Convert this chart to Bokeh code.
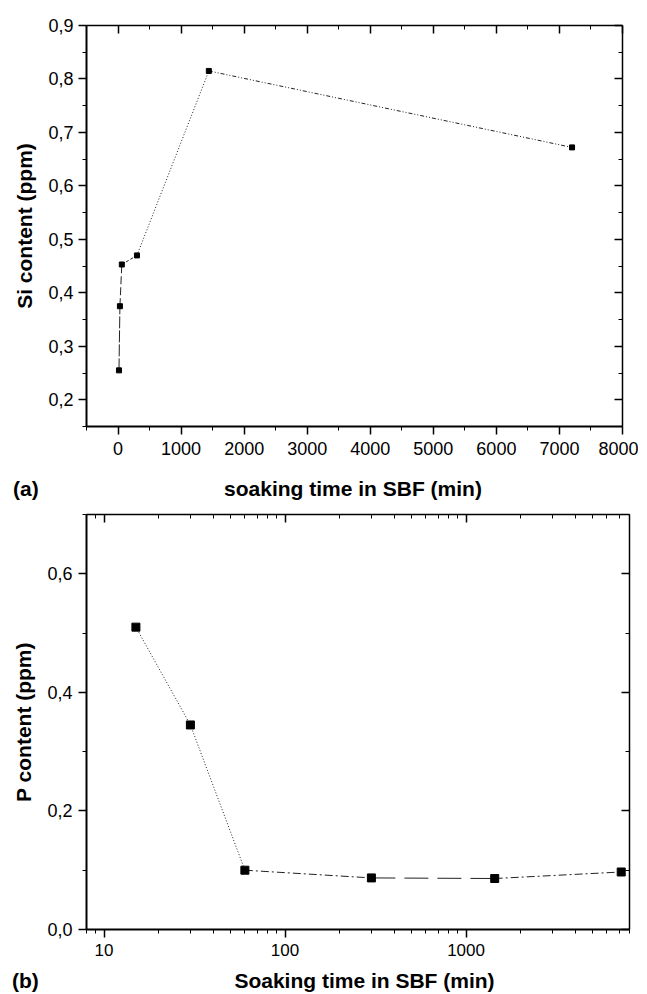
from bokeh.plotting import figure
from bokeh.models import (LinearAxis, LogAxis, FixedTicker, CustomJSTickFormatter,
                          Range1d, Div)
from bokeh.layouts import column, row
from bokeh.embed import file_html
from bokeh.resources import INLINE

# ---------------- data ----------------
time_min = [15, 30, 60, 300, 1440, 7200]
si_ppm = [0.255, 0.375, 0.453, 0.470, 0.815, 0.672]
p_ppm = [0.510, 0.345, 0.100, 0.087, 0.086, 0.097]

si_yticks = [0.2, 0.3, 0.4, 0.5, 0.6, 0.7, 0.8, 0.9]
si_yminor = [0.15, 0.25, 0.35, 0.45, 0.55, 0.65, 0.75, 0.85]
si_xticks = [0, 1000, 2000, 3000, 4000, 5000, 6000, 7000, 8000]
si_xminor = [-500, 500, 1500, 2500, 3500, 4500, 5500, 6500, 7500]

p_yticks = [0.0, 0.2, 0.4, 0.6]
p_yminor = [0.1, 0.3, 0.5, 0.7]
p_xticks = [10, 100, 1000]
p_xminor = [8, 9, 20, 30, 40, 50, 60, 70, 80, 90,
            200, 300, 400, 500, 600, 700, 800, 900,
            2000, 3000, 4000, 5000, 6000, 7000, 8000]

si_xlabel = "soaking time in SBF (min)"
si_ylabel = "Si content (ppm)"
p_xlabel = "Soaking time in SBF (min)"
p_ylabel = "P content (ppm)"
tag_a = "(a)"
tag_b = "(b)"

FONT = "Liberation Sans"
LABEL_SIZE = "21px"

si_dash = "12 2", "8 3", "3 2", "1 2", "4 2 1 2 1 2"
p_dash = "1 2", "1 2", "8 3 2 3", "24 9", "8 3 2 3"


def comma_fmt():
    return CustomJSTickFormatter(code="return tick.toFixed(1).replace('.', ',');")


def int_fmt():
    return CustomJSTickFormatter(code="return String(Math.round(tick));")


def blank_fmt():
    return CustomJSTickFormatter(code="return '';")


def style_axis(ax, primary, label_size="18px"):
    ax.axis_line_width = 2
    ax.axis_line_color = "black"
    ax.major_tick_line_width = 1.5
    ax.minor_tick_line_width = 1
    ax.major_tick_line_color = "black"
    ax.minor_tick_line_color = "black"
    if primary:
        ax.major_tick_out = 8
        ax.major_tick_in = 0
        ax.minor_tick_out = 4
        ax.minor_tick_in = 0
        ax.major_label_text_font = FONT
        ax.major_label_text_font_size = label_size
        ax.major_label_text_color = "black"
        ax.major_label_standoff = 5
        ax.axis_label_text_font = FONT
        ax.axis_label_text_font_size = LABEL_SIZE
        ax.axis_label_text_font_style = "bold"
        ax.axis_label_text_color = "black"
    else:
        ax.axis_line_width = 1.5
        ax.major_tick_out = 0
        ax.major_tick_in = 8
        ax.minor_tick_out = 0
        ax.minor_tick_in = 4
        ax.formatter = blank_fmt()
        ax.major_label_text_font_size = "2px"
        ax.major_label_standoff = 0
        ax.axis_label = None


def text_div(txt, width, height, pad_top, align, pad_left=0):
    html = ('<div style="width:%dpx; padding-top:%dpx; padding-left:%dpx; line-height:22px; '
            'text-align:%s; white-space:nowrap; box-sizing:border-box;">%s</div>'
            % (width, pad_top, pad_left, align, txt))
    return Div(text=html, width=width, height=height, margin=0,
               styles={"font-family": FONT, "font-size": LABEL_SIZE,
                       "font-weight": "bold", "color": "black"})


# ---------------- (a) Si content ----------------
p1 = figure(width=638, height=466, x_range=Range1d(-500, 8000), y_range=Range1d(0.15, 0.9),
            output_backend="svg", toolbar_location=None,
            min_border_left=84, min_border_right=16, min_border_top=25, min_border_bottom=40)
p1.outline_line_color = None
p1.xgrid.visible = False
p1.ygrid.visible = False

xt1 = FixedTicker(ticks=si_xticks, minor_ticks=si_xminor)
yt1 = FixedTicker(ticks=si_yticks, minor_ticks=si_yminor)

bx = p1.xaxis[0]
bx.ticker = xt1
bx.formatter = int_fmt()
style_axis(bx, True)
bx.major_label_standoff = 7

ly = p1.yaxis[0]
ly.ticker = yt1
ly.formatter = comma_fmt()
ly.axis_label = si_ylabel
style_axis(ly, True)
ly.axis_label_standoff = 9

tx = LinearAxis(ticker=xt1)
style_axis(tx, False)
p1.add_layout(tx, "above")
ry = LinearAxis(ticker=yt1)
style_axis(ry, False)
p1.add_layout(ry, "right")

for i in range(len(time_min) - 1):
    p1.line(time_min[i:i + 2], si_ppm[i:i + 2], line_color="#222222", line_width=1,
            line_dash=si_dash[i])
p1.scatter(time_min, si_ppm, marker="square", size=5, fill_color="black", line_color="black")

row_a = row(text_div(tag_a, 84, 34, 12, "left", 13),
            text_div(si_xlabel, 538, 34, 12, "center"))

# ---------------- (b) P content ----------------
p2 = figure(width=645, height=466, x_axis_type="log", x_range=Range1d(8, 8000),
            y_range=Range1d(0.0, 0.7),
            output_backend="svg", toolbar_location=None,
            min_border_left=86, min_border_right=2, min_border_top=14, min_border_bottom=37)
p2.outline_line_color = None
p2.xgrid.visible = False
p2.ygrid.visible = False

xt2 = FixedTicker(ticks=p_xticks, minor_ticks=p_xminor)
yt2 = FixedTicker(ticks=p_yticks, minor_ticks=p_yminor)

bx2 = p2.xaxis[0]
bx2.ticker = xt2
bx2.formatter = int_fmt()
style_axis(bx2, True, "17px")
bx2.major_label_standoff = 6

ly2 = p2.yaxis[0]
ly2.ticker = yt2
ly2.formatter = comma_fmt()
ly2.axis_label = p_ylabel
style_axis(ly2, True)
ly2.major_label_standoff = 6
ly2.axis_label_standoff = 9

tx2 = LogAxis(ticker=xt2)
style_axis(tx2, False)
p2.add_layout(tx2, "above")
ry2 = LinearAxis(ticker=yt2)
style_axis(ry2, False)
p2.add_layout(ry2, "right")

for i in range(len(time_min) - 1):
    p2.line(time_min[i:i + 2], p_ppm[i:i + 2], line_color="#222222", line_width=1,
            line_dash=p_dash[i])
p2.scatter(time_min, p_ppm, marker="square", size=8, fill_color="black", line_color="black")

row_b = row(text_div(tag_b, 86, 28, 3, "left", 12),
            text_div(p_xlabel, 557, 28, 3, "center"))

layout = column(p1, row_a, p2, row_b)
open("out.html", "w").write(file_html(layout, INLINE))
